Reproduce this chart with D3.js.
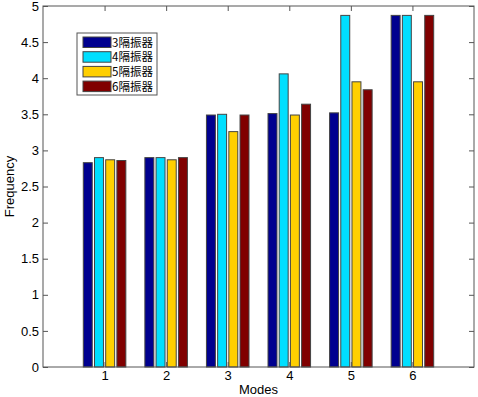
<!DOCTYPE html>
<html>
<head>
<meta charset="utf-8">
<script src="https://cdn.jsdelivr.net/npm/d3@7"></script>
<style>
  body { margin: 0; background: #fff; }
  text { font-family: "Liberation Sans", Arial, sans-serif; }
</style>
</head>
<body>
<div id="chart"></div>
<script>
// 数据
const modes = [1, 2, 3, 4, 5, 6];
const seriesNames = ["3隔振器", "4隔振器", "5隔振器", "6隔振器"];
const colors = ["#00008F", "#00DFFF", "#FFCF00", "#800000"];
const s3 = [2.83, 2.90, 3.49, 3.51, 3.52, 4.87];
const s4 = [2.90, 2.90, 3.50, 4.06, 4.87, 4.87];
const s5 = [2.87, 2.87, 3.26, 3.49, 3.95, 3.95];
const s6 = [2.86, 2.90, 3.49, 3.64, 3.84, 4.87];
const yTicks = [0, 0.5, 1, 1.5, 2, 2.5, 3, 3.5, 4, 4.5, 5];

const series = [s3, s4, s5, s6];

const width = 478, height = 397;
const margin = { left: 43, right: 4, top: 6, bottom: 30 };

const svg = d3.select("#chart").append("svg")
  .attr("width", width)
  .attr("height", height);

const x = d3.scaleLinear().domain([0, 7]).range([margin.left, width - margin.right]);
const y = d3.scaleLinear().domain([0, 5]).range([height - margin.bottom, margin.top]);

// MATLAB 风格分组柱
const n = series.length;
const groupWidth = Math.min(0.8, n / (n + 1.5));
const slot = groupWidth / n;
const barW = slot * 0.8;

series.forEach((vals, si) => {
  svg.append("g").selectAll("rect")
    .data(vals)
    .enter()
    .append("rect")
    .attr("x", (d, i) => x(modes[i] - groupWidth / 2 + slot * si + (slot - barW) / 2))
    .attr("width", x(barW) - x(0))
    .attr("y", d => y(d))
    .attr("height", d => y(0) - y(d))
    .attr("fill", colors[si])
    .attr("stroke", "#444")
    .attr("stroke-width", 1);
});

// 坐标框
const plotW = width - margin.left - margin.right;
const plotH = height - margin.top - margin.bottom;
svg.append("rect")
  .attr("x", margin.left).attr("y", margin.top)
  .attr("width", plotW).attr("height", plotH)
  .attr("fill", "none").attr("stroke", "#555").attr("stroke-width", 1);

// 坐标轴（刻度向内）
const yAxis = d3.axisLeft(y).tickValues(yTicks).tickSize(-5).tickPadding(4).tickFormat(d3.format("~g"));
const gy = svg.append("g").attr("transform", `translate(${margin.left},0)`).call(yAxis);
const yAxisR = d3.axisRight(y).tickValues(yTicks).tickSize(-5).tickFormat("");
const gyr = svg.append("g").attr("transform", `translate(${width - margin.right},0)`).call(yAxisR);

const xAxis = d3.axisBottom(x).tickValues(modes).tickSize(-5).tickPadding(4).tickFormat(d3.format("d"));
const gx = svg.append("g").attr("transform", `translate(0,${height - margin.bottom})`).call(xAxis);
const xAxisT = d3.axisTop(x).tickValues(modes).tickSize(-5).tickFormat("");
const gxt = svg.append("g").attr("transform", `translate(0,${margin.top})`).call(xAxisT);

[gy, gyr, gx, gxt].forEach(g => {
  g.select(".domain").remove();
  g.selectAll(".tick line").attr("stroke", "#555");
  g.selectAll("text").attr("font-size", 13).attr("fill", "#000")
    .style("font-family", "'Liberation Sans', Arial, sans-serif");
});

// 轴标题
svg.append("text")
  .attr("x", x(3.5)).attr("y", 394)
  .attr("text-anchor", "middle")
  .attr("font-size", 13)
  .text("Modes");

svg.append("text")
  .attr("transform", `translate(14,${y(2.5)}) rotate(-90)`)
  .attr("text-anchor", "middle")
  .attr("font-size", 13)
  .text("Frequency");

// 图例
const lg = svg.append("g").attr("transform", "translate(77,33)");
lg.append("rect")
  .attr("width", 80).attr("height", 62)
  .attr("fill", "#fff").attr("stroke", "#555");
seriesNames.forEach((name, i) => {
  const row = lg.append("g").attr("transform", `translate(6,${4 + i * 14.7})`);
  row.append("rect")
    .attr("width", 28).attr("height", 10.5)
    .attr("fill", colors[i]).attr("stroke", "#444");
  row.append("text")
    .attr("x", 29).attr("y", 5.5).attr("dy", "0.35em")
    .attr("font-size", 11.5)
    .style("font-family", "'Noto Sans CJK SC', sans-serif")
    .text(name);
});
</script>
</body>
</html>
